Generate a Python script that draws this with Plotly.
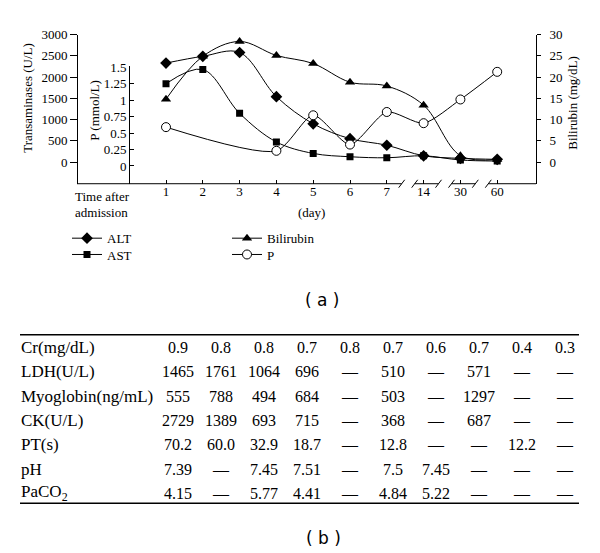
import plotly.graph_objects as go

# ---------------- data ----------------
days = ["1", "2", "3", "4", "5", "6", "7", "14", "30", "60"]
alt = [2330, 2490, 2580, 1540, 900, 550, 395, 147, 86, 63]
ast = [1845, 2180, 1147, 472, 202, 124, 100, 147, 47, 23]
bilirubin = [14.8, 24.9, 28.4, 25.1, 23.2, 18.8, 17.9, 13.4, 1.5, 0.6]
phosphate = [0.59, None, None, 0.23, 0.77, 0.325, 0.82, 0.65, 1.01, 1.43]

trans_ticks = [0, 500, 1000, 1500, 2000, 2500, 3000]
p_ticks = [0, 0.25, 0.5, 0.75, 1, 1.25, 1.5]
p_ticktext = ["0", "0.25", "0.5", "0.75", "1", "1.25", "1.5"]
bili_ticks = [0, 5, 10, 15, 20, 25, 30]

table_labels = ["Cr(mg/dL)", "LDH(U/L)", "Myoglobin(ng/mL)", "CK(U/L)", "PT(s)", "pH", "PaCO<sub>2</sub>"]
cr = ["0.9", "0.8", "0.8", "0.7", "0.8", "0.7", "0.6", "0.7", "0.4", "0.3"]
ldh = ["1465", "1761", "1064", "696", "—", "510", "—", "571", "—", "—"]
myoglobin = ["555", "788", "494", "684", "—", "503", "—", "1297", "—", "—"]
ck = ["2729", "1389", "693", "715", "—", "368", "—", "687", "—", "—"]
pt = ["70.2", "60.0", "32.9", "18.7", "—", "12.8", "—", "—", "12.2", "—"]
ph = ["7.39", "—", "7.45", "7.51", "—", "7.5", "7.45", "—", "—", "—"]
paco2 = ["4.15", "—", "5.77", "4.41", "—", "4.84", "5.22", "—", "—", "—"]
table_rows = [cr, ldh, myoglobin, ck, pt, ph, paco2]

# ---------------- geometry helpers ----------------
W, H = 600, 553
def px(x):
    return x / W
def py(y):
    return 1 - y / H

SERIF = "Liberation Serif"
SANS = "DejaVu Sans"
BLACK = "#000000"

# plot frame in pixels
X_LEFT, X_RIGHT = 77, 536
Y_TOP, Y_BOT = 28, 179
P_TOP = 60
DAY1_X, DAY_STEP = 166, 36.8
ZERO_Y, UNIT_PX = 157, 21.5  # 500 U/L (5 mg/dL) per 21.5px
P_ZERO_Y, P_PX = 161, 100 / 1.5

xr = [(X_LEFT - DAY1_X) / DAY_STEP, (X_RIGHT - DAY1_X) / DAY_STEP]
yr = [-(Y_BOT - ZERO_Y) / UNIT_PX * 500, (ZERO_Y - Y_TOP) / UNIT_PX * 500]
y3r = [v / 100 for v in yr]
y2r = [-(Y_BOT - P_ZERO_Y) / P_PX, (P_ZERO_Y - P_TOP) / P_PX]

xi = list(range(len(days)))

fig = go.Figure()
fig.add_trace(go.Scatter(x=xi, y=alt, name="ALT", mode="lines+markers",
                         line=dict(color=BLACK, width=1, shape="spline", smoothing=1),
                         marker=dict(symbol="diamond", size=9, color=BLACK),
                         xaxis="x", yaxis="y", legend="legend"))
fig.add_trace(go.Scatter(x=xi, y=ast, name="AST", mode="lines+markers",
                         line=dict(color=BLACK, width=1, shape="spline", smoothing=1),
                         marker=dict(symbol="square", size=7, color=BLACK),
                         xaxis="x", yaxis="y", legend="legend2"))
fig.add_trace(go.Scatter(x=xi, y=bilirubin, name="Bilirubin", mode="lines+markers",
                         line=dict(color=BLACK, width=1, shape="spline", smoothing=1),
                         marker=dict(symbol="triangle-up", size=9, color=BLACK),
                         xaxis="x", yaxis="y3", legend="legend3"))
fig.add_trace(go.Scatter(x=xi, y=phosphate, name="P", mode="lines+markers", connectgaps=True,
                         line=dict(color=BLACK, width=1, shape="spline", smoothing=0.7),
                         marker=dict(symbol="circle", size=9, color="white",
                                     line=dict(color=BLACK, width=1)),
                         xaxis="x", yaxis="y2", legend="legend4"))

tickfont = dict(family=SERIF, size=13, color=BLACK)

def legend_at(x, y):
    return dict(x=px(x), y=py(y), xanchor="left", yanchor="top",
                bgcolor="rgba(0,0,0,0)", font=dict(family=SERIF, size=13, color=BLACK),
                tracegroupgap=0, itemwidth=30)

fig.update_layout(
    width=W, height=H, autosize=False,
    margin=dict(l=0, r=0, t=0, b=0),
    paper_bgcolor="white", plot_bgcolor="rgba(0,0,0,0)",
    font=dict(family=SERIF, size=13, color=BLACK),
    xaxis=dict(domain=[px(X_LEFT), px(X_RIGHT)], range=xr, anchor="y",
               tickmode="array", tickvals=xi, ticktext=days,
               ticks="inside", ticklen=4, tickcolor=BLACK, tickwidth=1,
               showline=False, showgrid=False, zeroline=False,
               tickfont=tickfont, ticklabelstandoff=-2),
    yaxis=dict(domain=[py(Y_BOT), py(Y_TOP)], range=yr, anchor="free", position=px(X_LEFT),
               tickmode="array", tickvals=trans_ticks,
               ticks="outside", ticklen=7, tickcolor=BLACK,
               showline=True, linecolor=BLACK, linewidth=1,
               showgrid=False, zeroline=False, tickfont=tickfont),
    yaxis2=dict(domain=[py(Y_BOT), py(P_TOP)], range=y2r, anchor="free", position=px(129),
                tickmode="array", tickvals=p_ticks, ticktext=p_ticktext,
                ticks="inside", ticklen=4, tickcolor=BLACK,
                showline=True, linecolor=BLACK, linewidth=1,
                showgrid=False, zeroline=False, tickfont=tickfont),
    yaxis3=dict(overlaying="y", side="right", range=y3r, anchor="free", position=px(X_RIGHT),
                tickmode="array", tickvals=bili_ticks,
                ticks="outside", ticklen=4, tickcolor=BLACK,
                showline=True, linecolor=BLACK, linewidth=1,
                showgrid=False, zeroline=False, tickfont=tickfont, ticklabelstandoff=6),
    legend=legend_at(67, 219),
    legend2=legend_at(67, 235.5),
    legend3=legend_at(227, 219),
    legend4=legend_at(227, 235.5),
    showlegend=True,
)

shapes = []
# x axis line with breaks
breaks = [6, 7, 8]  # break after these category indices
half_gap = 6.5 / DAY_STEP
segs = []
start = xr[0]
for b in breaks:
    c = b + 0.5 + 3 / DAY_STEP
    segs.append((start, c - half_gap))
    for s in (c - half_gap, c + half_gap):
        shapes.append(dict(type="line", xref="x", yref="paper",
                           x0=s - 3 / DAY_STEP, x1=s + 3 / DAY_STEP,
                           y0=py(Y_BOT + 4), y1=py(Y_BOT - 4),
                           line=dict(color=BLACK, width=1)))
    start = c + half_gap
segs.append((start, xr[1]))
for a, b in segs:
    shapes.append(dict(type="line", xref="x", yref="paper", x0=a, x1=b,
                       y0=py(Y_BOT), y1=py(Y_BOT), line=dict(color=BLACK, width=1)))

# table rules
shapes.append(dict(type="line", xref="paper", yref="paper", x0=px(20), x1=px(579),
                   y0=py(332), y1=py(332), line=dict(color=BLACK, width=1.5)))
shapes.append(dict(type="line", xref="paper", yref="paper", x0=px(20), x1=px(579),
                   y0=py(502.5), y1=py(502.5), line=dict(color=BLACK, width=1.5)))

ann = []
def text(x, y, t, size=13, family=SERIF, xanchor="center", angle=0):
    ann.append(dict(x=px(x), y=py(y), xref="paper", yref="paper", text=t, showarrow=False,
                    xanchor=xanchor, yanchor="middle", textangle=angle,
                    font=dict(family=family, size=size, color=BLACK)))

text(28, 92, "Transaminases (U/L)", angle=-90)
text(95, 105, "P (mmol/L)", angle=-90)
text(573, 97, "Bilirubin (mg/dL)", angle=-90)
text(73, 192, "Time after", xanchor="left")
text(73, 208, "admission", xanchor="left")
text(311, 208, "(day)")
text(322, 297, "( a )", size=17, family=SANS)
text(323, 538, "( b )", size=17, family=SANS)

row_y0, row_step = 345, 24.6
col_x0, col_step = 178, 43
for r, (lab, vals) in enumerate(zip(table_labels, table_rows)):
    yy = row_y0 + r * row_step
    text(19, yy, lab, size=17, xanchor="left")
    for c, v in enumerate(vals):
        text(col_x0 + c * col_step, yy, v, size=16)

fig.update_layout(shapes=shapes, annotations=ann)
fig.write_html("out.html", config={"displayModeBar": False},
               post_script="document.body.style.margin='0px';")
